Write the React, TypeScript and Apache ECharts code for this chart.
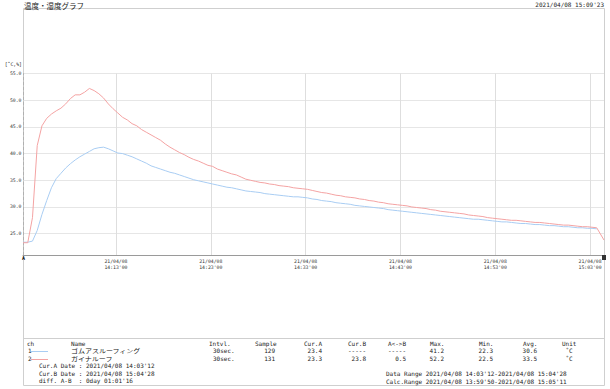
import React, { useEffect, useRef } from "react";
import * as echarts from "echarts";

// ---- data ----
const chartTitle = "温度・湿度グラフ";
const printedAt = "2021/04/08 15:09'23";
const datePrefix = "21/04/08";
const startTime = "14:03:12";
const endTime = "15:04:28";
const sampleSec = 30;
const xTickTimes = ["14:13:00", "14:23:00", "14:33:00", "14:43:00", "14:53:00", "15:03:00"];
const yTicks = [25, 30, 35, 40, 45, 50, 55];
const yMin = 21;
const yMax = 55;
const yUnitLabel = "[˚C,%]";

// ch1: ゴムアスルーフィング (30 sec samples from startTime)
const ch1Values = [
  23.4, 23.4, 23.6, 25.6, 28.6, 31.2, 33.6, 35.3, 36.3, 37.3,
  38.1, 38.8, 39.4, 39.9, 40.4, 40.9, 41.1, 41.2, 40.9, 40.5,
  40.1, 40.0, 39.7, 39.4, 39.0, 38.6, 38.2, 37.7, 37.4, 37.1,
  36.8, 36.5, 36.3, 36.0, 35.7, 35.4, 35.1, 34.9, 34.7, 34.5,
  34.3, 34.1, 33.9, 33.7, 33.6, 33.4, 33.2, 33.0, 32.9, 32.8,
  32.7, 32.5, 32.4, 32.3, 32.2, 32.1, 32.0, 31.9, 31.9, 31.8,
  31.7, 31.5, 31.4, 31.2, 31.1, 31.0, 30.8, 30.7, 30.6, 30.5,
  30.3, 30.2, 30.1, 30.0, 29.9, 29.8, 29.7, 29.5, 29.4, 29.3,
  29.2, 29.1, 29.0, 28.9, 28.8, 28.7, 28.6, 28.5, 28.4, 28.3,
  28.2, 28.1, 28.0, 27.9, 27.8, 27.7, 27.7, 27.6, 27.5, 27.4,
  27.3, 27.2, 27.2, 27.1, 27.0, 26.9, 26.9, 26.8, 26.7, 26.7,
  26.6, 26.5, 26.5, 26.4, 26.3, 26.3, 26.2, 26.1, 26.1, 26.0,
  26.0, 25.9,
];

// ch2: ガイナルーフ (30 sec samples from startTime, last point at endTime)
const ch2Values = [
  23.3, 23.3, 28.0, 41.5, 45.2, 46.6, 47.4, 48.0, 48.5, 49.3,
  50.3, 51.0, 51.0, 51.5, 52.2, 51.8, 51.2, 50.4, 49.3, 48.4,
  47.6, 46.8, 46.3, 45.6, 45.2, 44.5, 44.0, 43.5, 43.0, 42.5,
  41.8, 41.2, 40.7, 40.2, 39.8, 39.3, 38.9, 38.6, 38.2, 37.8,
  37.6, 37.1, 36.8, 36.5, 36.2, 36.0, 35.6, 35.2, 35.0, 34.8,
  34.6, 34.5, 34.3, 34.2, 34.0, 33.9, 33.8, 33.6, 33.5, 33.4,
  33.3, 33.1, 32.9, 32.7, 32.6, 32.4, 32.2, 32.1, 31.9, 31.8,
  31.7, 31.5, 31.4, 31.2, 31.1, 30.9, 30.8, 30.6, 30.5, 30.4,
  30.3, 30.2, 30.0, 29.9, 29.8, 29.7, 29.5, 29.4, 29.2, 29.1,
  29.0, 28.9, 28.8, 28.7, 28.5, 28.4, 28.3, 28.2, 28.0, 27.9,
  27.8, 27.7, 27.6, 27.5, 27.5, 27.4, 27.3, 27.2, 27.1, 27.1,
  27.0, 26.9, 26.8, 26.7, 26.6, 26.6, 26.5, 26.4, 26.3, 26.3,
  26.2, 26.1,
];
const ch2EndValue = 23.8;

// table
const tableHeaders = ["ch", "Name", "Intvl.", "Sample", "Cur.A", "Cur.B", "A<->B", "Max.", "Min.", "Avg.", "Unit"];
const channelNos = ["1", "2"];
const channelNames = ["ゴムアスルーフィング", "ガイナルーフ"];
const channelIntervals = ["30sec.", "30sec."];
const channelSamples = ["129", "131"];
const channelCurA = ["23.4", "23.3"];
const channelCurB = ["-----", "23.8"];
const channelAtoB = ["-----", "0.5"];
const channelMax = ["41.2", "52.2"];
const channelMin = ["22.3", "22.5"];
const channelAvg = ["30.6", "33.5"];
const channelUnit = ["˚C", "˚C"];
const cursorLines = [
  "Cur.A Date : 2021/04/08 14:03'12",
  "Cur.B Date : 2021/04/08 15:04'28",
  "diff. A-B  : 0day 01:01'16",
];
const rangeLines = [
  "Data Range 2021/04/08 14:03'12-2021/04/08 15:04'28",
  "Calc.Range 2021/04/08 13:59'50-2021/04/08 15:05'11",
];

const seriesColors = ["#a9cdf3", "#f4a3a3"];

// ---- helpers ----
const toSec = (s: string) => {
  const [h, m, sec] = s.split(":").map(Number);
  return h * 3600 + m * 60 + sec;
};
const pad = (n: number) => String(n).padStart(2, "0");
const fmtTime = (v: number) => {
  const h = Math.floor(v / 3600);
  const m = Math.floor((v % 3600) / 60);
  const s = Math.round(v % 60);
  return `${pad(h)}:${pad(m)}'${pad(s)}`;
};

const MONO = "DejaVu Sans Mono";
const JP = "Noto Sans CJK JP";

export default function App() {
  const ref = useRef<HTMLDivElement>(null);

  useEffect(() => {
    if (!ref.current) return;
    const chart = echarts.init(ref.current, null, { renderer: "svg" });
    const t0 = toSec(startTime);
    const tEnd = toSec(endTime);
    const ch1Data = ch1Values.map((v, i) => [t0 + i * sampleSec, v]);
    const ch2Data = ch2Values.map((v, i) => [t0 + i * sampleSec, v]);
    ch2Data.push([tEnd, ch2EndValue]);
    const xTicks = xTickTimes.map(toSec);

    const frameColor = "#cfcfcf";
    const txt = "#222";
    const g: any[] = [];
    const line = (x1: number, y1: number, x2: number, y2: number, stroke = frameColor, dash?: number[]) =>
      g.push({ type: "line", shape: { x1, y1, x2, y2 }, style: { stroke, lineWidth: 1, lineDash: dash }, silent: true, z: 0 });
    const text = (t: string, x: number, y: number, opts: any = {}) =>
      g.push({
        type: "text",
        x,
        y,
        scaleX: opts.scaleX || 1,
        style: {
          text: t,
          fill: opts.fill || txt,
          font: opts.font || `6px '${MONO}'`,
          textAlign: opts.align || "left",
          textVerticalAlign: "middle",
        },
        silent: true,
        z: 10,
      });

    // frame
    line(23.5, 8.5, 604.5, 8.5);
    line(23.5, 8.5, 23.5, 385.5);
    line(604.5, 8.5, 604.5, 385.5);
    line(23.5, 338.5, 604.5, 338.5);
    line(23.5, 385.5, 604.5, 385.5);

    // titles
    text(chartTitle, 24, 5, { font: `7.5px '${JP}'` });
    text(printedAt, 604, 4.5, { align: "right" });
    text(yUnitLabel, 22, 64, { align: "right", font: `4.8px '${MONO}'` });

    // cursor markers
    text("A", 23.5, 257.5, { align: "center", font: `bold 5px '${MONO}'`, fill: "#000" });
    g.push({ type: "rect", shape: { x: 602, y: 255, width: 4, height: 5 }, style: { fill: "#333" }, silent: true, z: 10 });

    // table headers
    const headerX = [27, 71, 209, 255, 304, 348, 388, 430, 479, 523, 562];
    tableHeaders.forEach((h, i) => text(h, headerX[i], 343));

    const cols = [channelNos, channelNames, channelIntervals, channelSamples, channelCurA, channelCurB, channelAtoB, channelMax, channelMin, channelAvg, channelUnit];
    const colX = [28, 71, 213, 275, 322, 366, 406, 444, 493, 537, 569];
    const colAlign = ["left", "left", "left", "right", "right", "right", "right", "right", "right", "right", "center"];
    const rowY = [350.5, 358.5];
    rowY.forEach((y, r) => {
      cols.forEach((c, ci) => {
        if (ci === 1) text(c[r], colX[ci], y, { font: `5.6px '${JP}'`, scaleX: 1.25 });
        else text(c[r], colX[ci], y, { align: colAlign[ci] });
      });
      line(31, y + 1, 48, y + 1, seriesColors[r]);
    });
    const curY = [365.5, 373, 380.5];
    cursorLines.forEach((l, i) => text(l, 39, curY[i]));
    const rngY = [373, 381];
    rangeLines.forEach((l, i) => text(l, 386, rngY[i]));

    chart.setOption({
      animation: false,
      backgroundColor: "#fff",
      grid: { left: 23, right: 6, top: 73.5, bottom: 134, containLabel: false },
      xAxis: {
        type: "value",
        min: t0,
        max: tEnd,
        axisLine: { show: true, lineStyle: { color: "#9a9a9a", width: 1 } },
        axisTick: { show: false, customValues: xTicks },
        axisLabel: {
          customValues: xTicks,
          formatter: (v: number) => `${datePrefix}\n${fmtTime(v)}`,
          fontFamily: MONO,
          fontSize: 4.8,
          lineHeight: 5.6,
          color: "#333",
          margin: 4,
        },
        splitLine: { show: true, lineStyle: { color: "#dedede", width: 1 } },
      },
      yAxis: {
        type: "value",
        min: yMin,
        max: yMax,
        axisLine: { show: true, lineStyle: { color: "#b0b0b0", type: [3, 2], width: 1 } },
        axisTick: { show: false, customValues: yTicks },
        axisLabel: {
          customValues: yTicks,
          formatter: (v: number) => v.toFixed(1),
          fontFamily: MONO,
          fontSize: 4.8,
          color: "#333",
          margin: 1.5,
        },
        splitLine: { show: true, lineStyle: { color: "#e6e6e6", width: 1 } },
      },
      series: [
        {
          name: channelNames[0],
          type: "line",
          data: ch1Data,
          showSymbol: false,
          lineStyle: { color: seriesColors[0], width: 1 },
          itemStyle: { color: seriesColors[0] },
          z: 3,
        },
        {
          name: channelNames[1],
          type: "line",
          data: ch2Data,
          showSymbol: false,
          lineStyle: { color: seriesColors[1], width: 1 },
          itemStyle: { color: seriesColors[1] },
          z: 4,
        },
      ],
      graphic: g,
    });
    return () => chart.dispose();
  }, []);

  return (
    <div
      ref={ref}
      style={{ position: "fixed", left: 0, top: 0, width: 610, height: 389, background: "#fff" }}
    />
  );
}
